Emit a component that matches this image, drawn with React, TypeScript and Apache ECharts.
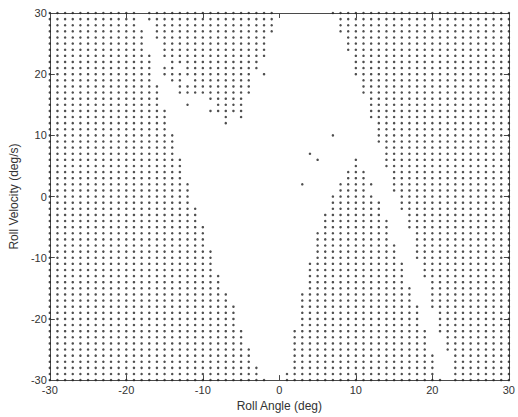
import React, { useEffect, useRef } from "react";
import * as echarts from "echarts";

// Roll velocity (deg/s) of each row of the grid, top to bottom
const rollVelocity = [
  30, 29, 28, 27, 26, 25, 24, 23, 22, 21, 20, 19, 18, 17, 16, 15, 14, 13, 12, 11, 10,
  9, 8, 7, 6, 5, 4, 3, 2, 1, 0, -1, -2, -3, -4, -5, -6, -7, -8, -9, -10,
  -11, -12, -13, -14, -15, -16, -17, -18, -19, -20, -21, -22, -23, -24, -25, -26, -27, -28, -29, -30,
];

// Left region: every roll angle from -30 up to this value (deg)
const leftRegionEnd = [
  -19, -19, -19, -18, -18, -18, -18, -17, -17, -17, -17, -17, -16, -16, -16, -16, -15, -15, -15, -15, -14,
  -14, -14, -14, -13, -13, -13, -13, -12, -12, -12, -12, -11, -11, -11, -10, -10, -10, -10, -9, -9,
  -9, -9, -8, -8, -8, -7, -7, -6, -6, -6, -6, -5, -5, -5, -4, -4, -4, -3, -3, -2,
];

// Right region: every roll angle from this value up to 30 (deg)
const rightRegionStart = [
  7, 8, 8, 8, 9, 9, 9, 10, 10, 10, 10, 11, 11, 11, 12, 12, 12, 12, 13, 13, 13,
  13, 14, 14, 14, 14, 15, 15, 15, 15, 16, 16, 16, 17, 17, 17, 18, 18, 18, 18, 18,
  19, 19, 19, 20, 20, 20, 20, 20, 21, 21, 21, 21, 22, 22, 22, 23, 23, 23, 23, 23,
];

// Middle runs [from, to] of roll angle (deg) for each row
const middleRuns: [number, number][][] = [
  [[-17, -1]],
  [[-17, -1]],
  [[-16, -1]],
  [[-16, -1]],
  [[-16, -2]],
  [[-15, -2]],
  [[-15, -2]],
  [[-15, -2]],
  [[-14, -3]],
  [[-15, -14], [-12, -3]],
  [[-15, -4], [-2, -2]],
  [[-14, -13], [-11, -4]],
  [[-13, -4]],
  [[-13, -4]],
  [[-9, -5]],
  [[-12, -12], [-8, -5]],
  [[-9, -5]],
  [[-7, -7], [-5, -5]],
  [[-7, -7]],
  [],
  [[7, 7]],
  [],
  [],
  [[4, 4]],
  [[5, 5], [10, 10]],
  [[10, 10]],
  [[9, 11]],
  [[9, 11]],
  [[3, 3], [8, 12]],
  [[8, 11]],
  [[7, 12]],
  [[7, 13]],
  [[7, 13]],
  [[6, 13]],
  [[6, 14]],
  [[6, 14]],
  [[5, 14]],
  [[5, 14]],
  [[5, 15]],
  [[5, 15]],
  [[5, 15]],
  [[4, 16]],
  [[4, 16]],
  [[4, 16]],
  [[4, 16]],
  [[4, 17]],
  [[3, 17]],
  [[3, 17]],
  [[3, 18]],
  [[3, 18]],
  [[3, 18]],
  [[3, 18]],
  [[2, 19]],
  [[2, 19]],
  [[2, 19]],
  [[2, 19]],
  [[2, 20]],
  [[2, 20]],
  [[2, 20]],
  [[1, 20]],
  [[1, 21]],
];

const AXIS_MIN = -30;
const AXIS_MAX = 30;
const TICK_STEP = 10;

function buildPoints(): [number, number][] {
  const pts: [number, number][] = [];
  rollVelocity.forEach((v, i) => {
    const runs: [number, number][] = [
      [AXIS_MIN, leftRegionEnd[i]],
      ...middleRuns[i],
      [rightRegionStart[i], AXIS_MAX],
    ];
    runs.forEach(([a, b]) => {
      for (let x = a; x <= b; x++) pts.push([x, v]);
    });
  });
  return pts;
}

const FONT = "Arial, 'Liberation Sans', sans-serif";
const AXIS_COLOR = "#4a4a4a";
const TEXT_COLOR = "#333";

export default function App() {
  const ref = useRef<HTMLDivElement>(null);

  useEffect(() => {
    if (!ref.current) return;
    const chart = echarts.init(ref.current, undefined, { renderer: "svg" });
    const axisBase = {
      type: "value" as const,
      min: AXIS_MIN,
      max: AXIS_MAX,
      interval: TICK_STEP,
      splitLine: { show: false },
      axisLine: { show: true, onZero: false, lineStyle: { color: AXIS_COLOR, width: 1 } },
      axisTick: { show: true, inside: true, length: 5, lineStyle: { color: AXIS_COLOR } },
    };
    chart.setOption({
      animation: false,
      backgroundColor: "#fff",
      grid: { left: 41, right: 3, top: 13, bottom: 31, containLabel: false },
      xAxis: [
        {
          ...axisBase,
          position: "bottom",
          axisLabel: { color: TEXT_COLOR, fontSize: 11, fontFamily: FONT, margin: 4 },
          name: "Roll Angle (deg)",
          nameLocation: "middle",
          nameGap: 17,
          nameTextStyle: { color: TEXT_COLOR, fontSize: 12, fontFamily: FONT },
        },
        { ...axisBase, position: "top", axisLabel: { show: false } },
      ],
      yAxis: [
        {
          ...axisBase,
          position: "left",
          axisLabel: { color: TEXT_COLOR, fontSize: 11, fontFamily: FONT, margin: 3 },
          name: "Roll Velocity (deg/s)",
          nameLocation: "middle",
          nameGap: 20,
          nameTextStyle: { color: TEXT_COLOR, fontSize: 12, fontFamily: FONT },
        },
        { ...axisBase, position: "right", axisLabel: { show: false } },
      ],
      series: [
        {
          type: "scatter",
          xAxisIndex: 0,
          yAxisIndex: 0,
          data: buildPoints(),
          symbol: "circle",
          symbolSize: 2.5,
          clip: false,
          itemStyle: { color: "#222" },
          silent: true,
        },
      ],
    });
    return () => chart.dispose();
  }, []);

  return (
    <div
      ref={ref}
      style={{ position: "absolute", left: 0, top: 0, width: 518, height: 417, background: "#fff" }}
    />
  );
}
